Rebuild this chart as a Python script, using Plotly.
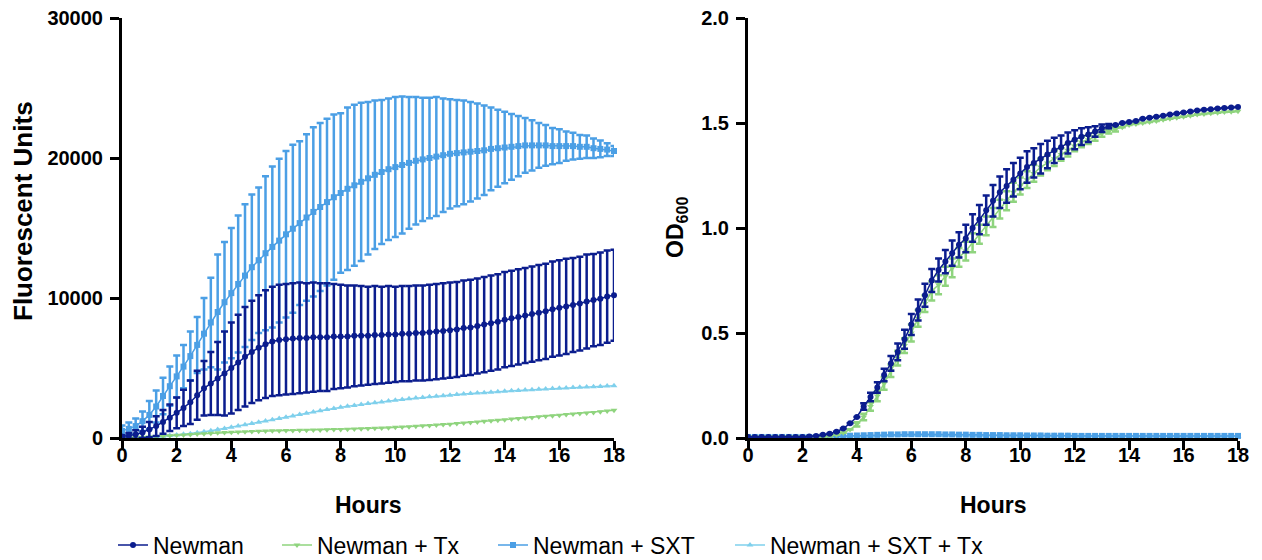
import plotly.graph_objects as go

# ---------------- data (sampled every 15 min, 0-18 h) ----------------
hours = [i * 0.25 for i in range(73)]
series_names = ["Newman", "Newman + Tx", "Newman + SXT", "Newman + SXT + Tx"]
x_ticks = [0, 2, 4, 6, 8, 10, 12, 14, 16, 18]

# Fluorescence (left panel)
fl_newman = [100, 150, 250, 400,
             600, 850, 1150, 1450,
             1800, 2150, 2550, 3050,
             3550, 3900, 4250, 4600,
             5000, 5400, 5800, 6150,
             6450, 6700, 6900, 7000,
             7050, 7100, 7150, 7150,
             7200, 7200, 7200, 7250,
             7250, 7250, 7300, 7300,
             7300, 7350, 7350, 7400,
             7400, 7450, 7450, 7500,
             7500, 7550, 7600, 7650,
             7700, 7750, 7850, 7900,
             8000, 8100, 8200, 8300,
             8450, 8550, 8650, 8750,
             8850, 8950, 9050, 9200,
             9300, 9400, 9500, 9600,
             9750, 9850, 9950, 10100,
             10200]
fl_newman_sd = [100, 200, 300, 400,
                550, 700, 850, 950,
                1100, 1300, 1550, 1750,
                1950, 2250, 2600, 3000,
                3250, 3400, 3550, 3650,
                3750, 3850, 3900, 3950,
                3950, 3950, 3950, 3900,
                3900, 3850, 3850, 3750,
                3700, 3650, 3600, 3550,
                3500, 3500, 3450, 3450,
                3400, 3400, 3400, 3400,
                3400, 3400, 3400, 3400,
                3400, 3400, 3400, 3400,
                3400, 3400, 3400, 3400,
                3400, 3400, 3400, 3400,
                3400, 3400, 3400, 3400,
                3400, 3400, 3350, 3350,
                3350, 3300, 3300, 3300,
                3250]
fl_tx = [0, 20, 40, 60,
         80, 100, 130, 160,
         190, 220, 250, 280,
         310, 340, 370, 390,
         410, 430, 450, 470,
         490, 500, 510, 520,
         530, 540, 550, 560,
         570, 580, 590, 600,
         610, 620, 640, 660,
         680, 700, 720, 740,
         760, 790, 810, 840,
         870, 900, 930, 960,
         990, 1030, 1070, 1110,
         1150, 1190, 1230, 1270,
         1310, 1350, 1390, 1430,
         1470, 1510, 1550, 1590,
         1630, 1670, 1710, 1750,
         1790, 1830, 1880, 1930,
         1980]
fl_sxt = [500, 650, 850, 1200,
          1650, 2250, 3000, 3700,
          4400, 5100, 5850, 6650,
          7450, 8250, 9000, 9700,
          10350, 11000, 11600, 12200,
          12700, 13200, 13650, 14100,
          14550, 14950, 15350, 15750,
          16150, 16500, 16850, 17200,
          17500, 17800, 18050, 18300,
          18550, 18800, 19000, 19200,
          19350, 19500, 19650, 19800,
          19900, 20000, 20100, 20200,
          20300, 20350, 20400, 20450,
          20500, 20550, 20650, 20700,
          20750, 20800, 20850, 20900,
          20900, 20900, 20900, 20850,
          20850, 20850, 20850, 20800,
          20800, 20700, 20650, 20600,
          20500]
fl_sxt_sd = [400, 450, 550, 700,
             1000, 1150, 1300, 1400,
             1500, 1550, 1750, 2000,
             2550, 3200, 4100, 4300,
             4650, 4900, 5100, 5200,
             5200, 5500, 5750, 5850,
             5950, 6000, 5850, 5950,
             6050, 6000, 5950, 5900,
             5700, 5800, 5750, 5650,
             5450, 5300, 5150, 5050,
             5000, 4900, 4700, 4550,
             4400, 4300, 4250, 4050,
             3900, 3800, 3700, 3550,
             3400, 3200, 2950, 2750,
             2550, 2350, 2150, 1950,
             1800, 1600, 1450, 1300,
             1200, 1050, 950, 850,
             800, 700, 600, 450,
             360]
fl_sxt_tx = [0, 20, 40, 60,
             80, 100, 130, 170,
             210, 260, 310, 370,
             440, 520, 600, 680,
             760, 850, 940, 1030,
             1120, 1210, 1300, 1400,
             1490, 1580, 1670, 1760,
             1850, 1940, 2030, 2110,
             2190, 2260, 2330, 2400,
             2460, 2520, 2580, 2640,
             2700, 2750, 2800, 2850,
             2900, 2940, 2980, 3020,
             3060, 3100, 3140, 3180,
             3210, 3240, 3270, 3300,
             3340, 3370, 3400, 3420,
             3450, 3480, 3500, 3530,
             3550, 3580, 3600, 3620,
             3640, 3660, 3680, 3710,
             3730]

# OD600 (right panel)
od_newman = [0.005, 0.005, 0.005, 0.005,
             0.005, 0.005, 0.005, 0.005,
             0.005, 0.007, 0.01, 0.015,
             0.02, 0.03, 0.045, 0.07,
             0.1, 0.15, 0.195, 0.24,
             0.3, 0.355, 0.41, 0.47,
             0.54, 0.61, 0.68, 0.75,
             0.8, 0.84, 0.88, 0.92,
             0.95, 1.0, 1.04, 1.085,
             1.13, 1.17, 1.2, 1.23,
             1.26, 1.29, 1.31, 1.33,
             1.35, 1.37, 1.385, 1.405,
             1.42, 1.435, 1.445, 1.46,
             1.475, 1.485, 1.49, 1.5,
             1.505, 1.51, 1.52, 1.525,
             1.53, 1.535, 1.54, 1.545,
             1.55, 1.555, 1.56, 1.563,
             1.566, 1.569, 1.572, 1.574,
             1.576]
od_newman_sd = [0, 0, 0, 0,
                0, 0, 0, 0,
                0, 0, 0, 0,
                0, 0, 0, 0,
                0, 0.015, 0.02, 0.025,
                0.03, 0.035, 0.04, 0.045,
                0.05, 0.05, 0.055, 0.055,
                0.055, 0.055, 0.06, 0.06,
                0.065, 0.065, 0.07, 0.07,
                0.075, 0.075, 0.08, 0.08,
                0.075, 0.075, 0.07, 0.07,
                0.065, 0.06, 0.055, 0.05,
                0.045, 0.04, 0.035, 0.025,
                0.018, 0.01, 0, 0,
                0, 0, 0, 0,
                0, 0, 0, 0,
                0, 0, 0, 0,
                0, 0, 0, 0,
                0]
od_tx = [0.005, 0.005, 0.005, 0.005,
         0.005, 0.005, 0.005, 0.005,
         0.005, 0.005, 0.005, 0.005,
         0.008, 0.015, 0.025, 0.04,
         0.065, 0.1, 0.15, 0.2,
         0.26, 0.32, 0.38, 0.44,
         0.5, 0.57, 0.64, 0.7,
         0.73, 0.77, 0.81, 0.86,
         0.89, 0.93, 0.97, 1.01,
         1.05, 1.09, 1.13, 1.17,
         1.2, 1.23, 1.26, 1.29,
         1.31, 1.33, 1.35, 1.37,
         1.39, 1.41, 1.42, 1.435,
         1.45, 1.46, 1.47, 1.48,
         1.49, 1.495, 1.5, 1.505,
         1.51, 1.515, 1.52, 1.525,
         1.53, 1.535, 1.54, 1.543,
         1.546, 1.549, 1.552, 1.554,
         1.556]
od_tx_sd = [0, 0, 0, 0,
            0, 0, 0, 0,
            0, 0, 0, 0,
            0, 0, 0, 0,
            0.01, 0.015, 0.02, 0.025,
            0.03, 0.03, 0.035, 0.035,
            0.04, 0.04, 0.04, 0.045,
            0.045, 0.045, 0.045, 0.045,
            0.045, 0.045, 0.045, 0.045,
            0.045, 0.045, 0.045, 0.045,
            0.04, 0.04, 0.04, 0.04,
            0.035, 0.035, 0.03, 0.03,
            0.025, 0.025, 0.02, 0.02,
            0.015, 0.01, 0.01, 0,
            0, 0, 0, 0,
            0, 0, 0, 0,
            0, 0, 0, 0,
            0, 0, 0, 0,
            0]
od_sxt = [0.005, 0.005, 0.005, 0.005,
          0.005, 0.005, 0.005, 0.005,
          0.005, 0.005, 0.005, 0.005,
          0.006, 0.008, 0.01, 0.011,
          0.012, 0.013, 0.014, 0.015,
          0.016, 0.017, 0.017, 0.018,
          0.018, 0.018, 0.018, 0.018,
          0.018, 0.017, 0.017, 0.016,
          0.016, 0.015, 0.015, 0.014,
          0.014, 0.014, 0.013, 0.013,
          0.013, 0.012, 0.012, 0.012,
          0.011, 0.011, 0.011, 0.011,
          0.01, 0.01, 0.01, 0.01,
          0.01, 0.01, 0.01, 0.01,
          0.01, 0.01, 0.01, 0.01,
          0.01, 0.01, 0.01, 0.01,
          0.01, 0.01, 0.01, 0.01,
          0.01, 0.01, 0.01, 0.01,
          0.01]
od_sxt_tx = [0.004, 0.004, 0.004, 0.004,
             0.004, 0.004, 0.004, 0.004,
             0.004, 0.004, 0.004, 0.004,
             0.005, 0.006, 0.007, 0.008,
             0.009, 0.01, 0.011, 0.012,
             0.013, 0.013, 0.013, 0.013,
             0.013, 0.013, 0.013, 0.013,
             0.013, 0.013, 0.013, 0.013,
             0.012, 0.012, 0.012, 0.012,
             0.012, 0.012, 0.012, 0.012,
             0.012, 0.012, 0.012, 0.012,
             0.012, 0.012, 0.012, 0.012,
             0.01, 0.01, 0.01, 0.01,
             0.01, 0.01, 0.01, 0.01,
             0.01, 0.01, 0.01, 0.01,
             0.01, 0.01, 0.01, 0.01,
             0.01, 0.01, 0.01, 0.01,
             0.01, 0.01, 0.01, 0.01,
             0.01]

# ---------------- styling ----------------
W, H = 1262, 560
colors = {"Newman": "#0b1d8e", "Newman + Tx": "#8fd47e",
          "Newman + SXT": "#4b9fe5", "Newman + SXT + Tx": "#7fd0ec"}
symbols = {"Newman": "circle", "Newman + Tx": "triangle-down",
           "Newman + SXT": "square", "Newman + SXT + Tx": "triangle-up"}
legend_ids = {"Newman": "legend", "Newman + Tx": "legend2",
              "Newman + SXT": "legend3", "Newman + SXT + Tx": "legend4"}
legend_x_px = {"legend": 113, "legend2": 277, "legend3": 493, "legend4": 730}


def nz(vals):
    return [v if v else None for v in vals]


left = {"Newman": (fl_newman, fl_newman_sd), "Newman + Tx": (fl_tx, None),
        "Newman + SXT": (fl_sxt, fl_sxt_sd), "Newman + SXT + Tx": (fl_sxt_tx, None)}
right = {"Newman": (od_newman, od_newman_sd), "Newman + Tx": (od_tx, od_tx_sd),
         "Newman + SXT": (od_sxt, None), "Newman + SXT + Tx": (od_sxt_tx, None)}

fig = go.Figure()
draw_order = ["Newman + SXT + Tx", "Newman + SXT", "Newman + Tx", "Newman"]
for panel, data, xa, ya in [(0, left, "x", "y"), (1, right, "x2", "y2")]:
    for name in draw_order:
        y, sd = data[name]
        err = None
        if sd is not None:
            err = dict(type="data", array=nz(sd), visible=True, color=colors[name],
                       thickness=2.5, width=3.5)
        fig.add_trace(go.Scatter(
            x=hours, y=y, mode="lines+markers", name=name,
            line=dict(color=colors[name], width=1.5),
            marker=dict(symbol=symbols[name], size=6, color=colors[name]),
            error_y=err, xaxis=xa, yaxis=ya, cliponaxis=False,
            showlegend=(panel == 0), legend=legend_ids[name]))

ydom = [1 - 438 / H, 1 - 18 / H]
tick_font = dict(family="Liberation Sans, Arial", size=20, color="black", weight="bold")
axis_common = dict(showline=True, linewidth=3, linecolor="black", ticks="outside",
                   ticklen=9, tickwidth=3, tickcolor="black", showgrid=False,
                   zeroline=False, automargin=False, tickfont=tick_font)
layout = dict(
    width=W, height=H, margin=dict(l=0, r=0, t=0, b=0, pad=0, autoexpand=False),
    plot_bgcolor="white", paper_bgcolor="white",
    xaxis=dict(domain=[122 / W, 614 / W], range=[0, 18], tickvals=x_ticks,
               anchor="y", ticklabelstandoff=-12, **axis_common),
    yaxis=dict(domain=ydom, range=[0, 30000], tickvals=[0, 10000, 20000, 30000],
               tickformat="d", anchor="x", ticklabelstandoff=3, **axis_common),
    xaxis2=dict(domain=[748 / W, 1238 / W], range=[0, 18], tickvals=x_ticks,
                anchor="y2", ticklabelstandoff=-12, **axis_common),
    yaxis2=dict(domain=ydom, range=[0, 2.0], tickvals=[0, 0.5, 1.0, 1.5, 2.0],
                tickformat=".1f", anchor="x2", ticklabelstandoff=3, **axis_common),
)
for lid, px in legend_x_px.items():
    layout[lid] = dict(x=px / W, xanchor="left", y=1 - 545 / H, yanchor="middle",
                       xref="container", yref="container",
                       orientation="h", bgcolor="rgba(0,0,0,0)", borderwidth=0,
                       font=dict(family="Liberation Sans, Arial", size=23,
                                 color="black"))
fig.update_layout(**layout)

ann = [
    dict(text="<b>Fluorescent Units</b>", x=23 / W, y=1 - 211 / H, textangle=-90, size=26),
    dict(text="<b>OD<sub>600</sub></b>", x=676 / W, y=1 - 228 / H, textangle=-90, size=23),
    dict(text="<b>Hours</b>", x=368 / W, y=1 - 505 / H, textangle=0, size=23),
    dict(text="<b>Hours</b>", x=993 / W, y=1 - 505 / H, textangle=0, size=23),
]
for a in ann:
    size = a.pop("size")
    fig.add_annotation(xref="paper", yref="paper", showarrow=False,
                       xanchor="center", yanchor="middle",
                       font=dict(family="Liberation Sans, Arial", size=size,
                                 color="black"), **a)

fig.write_html("out.html",
               post_script="document.body.style.margin='0';"
                           "document.body.style.overflow='hidden';")
